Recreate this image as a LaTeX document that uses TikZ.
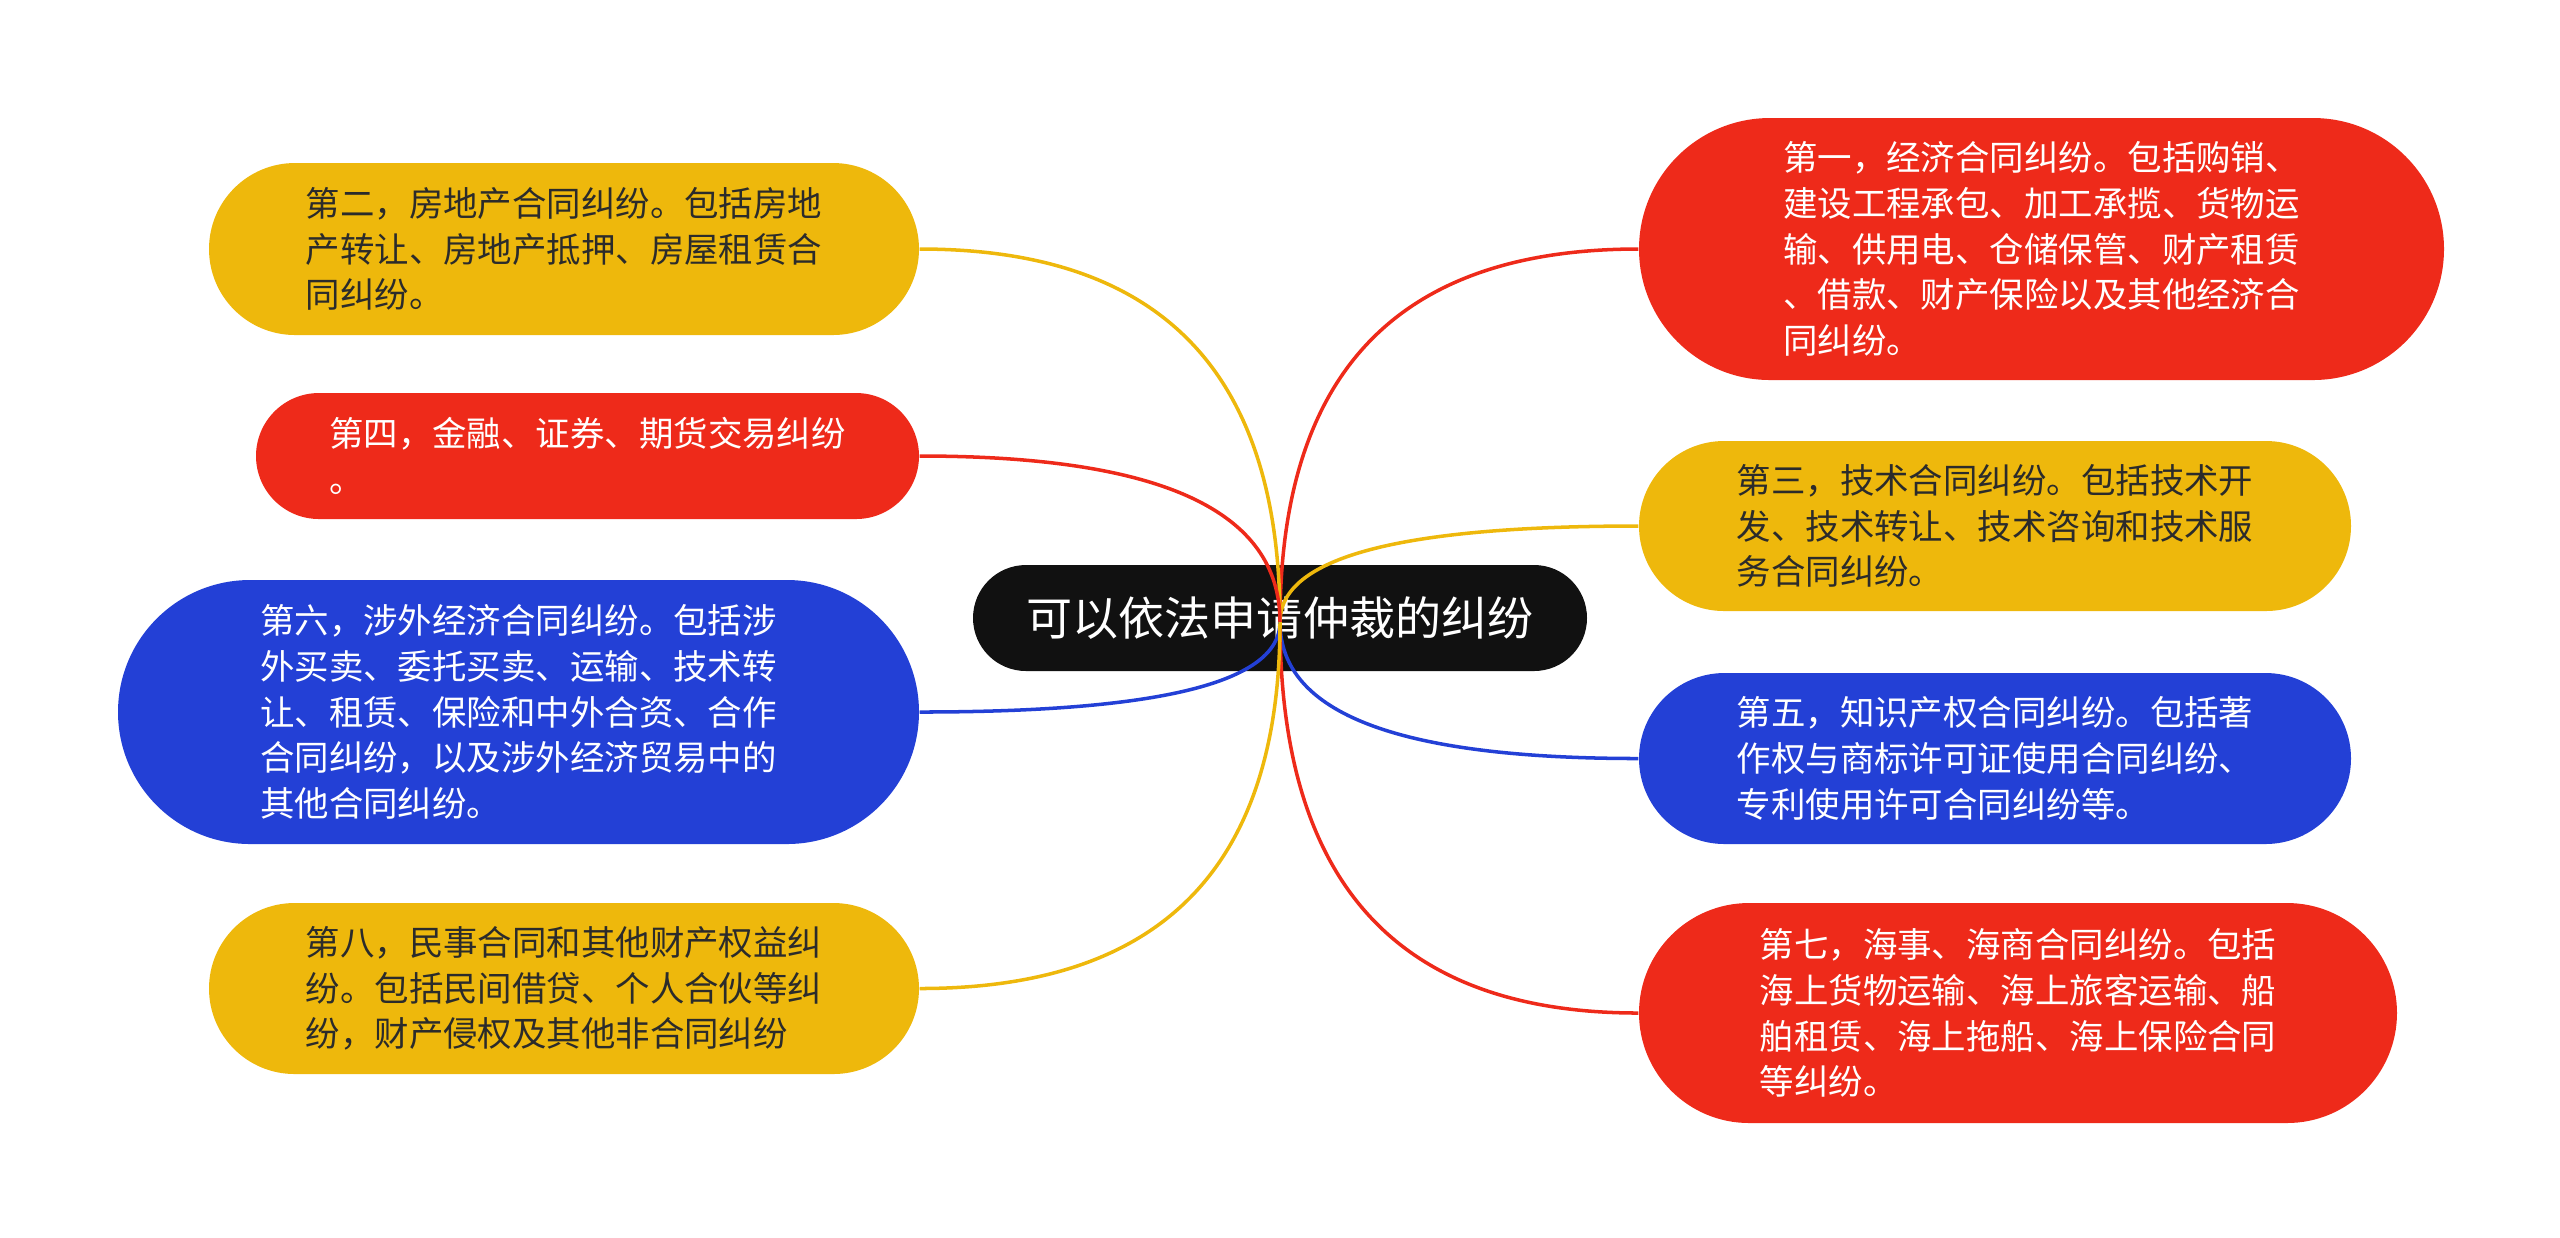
\documentclass[tikz,border=0pt]{standalone}
\usepackage{fontspec}
\setmainfont{Noto Sans CJK SC}
\usetikzlibrary{shapes.misc,calc}
\definecolor{mapred}{HTML}{EE2A1A}
\definecolor{mapyellow}{HTML}{EEB80C}
\definecolor{mapblue}{HTML}{2340D6}
\definecolor{mapblack}{HTML}{111111}
\definecolor{darktext}{HTML}{2B2B2B}

\begin{document}
\begin{tikzpicture}[
  topic/.style={rounded rectangle, fill=#1, align=left, inner sep=0pt,
    font=\fontsize{9.8pt}{13pt}\selectfont},
  link/.style={line width=1pt}]

\useasboundingbox (0,0) rectangle (25.6,-12.37);

\node[rounded rectangle, fill=mapblack, text=white, inner sep=0pt,
  minimum width=6.14cm, minimum height=1.06cm,
  font=\fontsize{13.1pt}{15pt}\selectfont] (root) at (12.80,-6.18) {可以依法申请仲裁的纠纷};

\coordinate (hub) at (12.80,-6.22);

\node[topic=mapyellow, text=darktext, minimum width=7.10cm, minimum height=1.72cm] (l1) at (5.64,-2.49)
  {第二，房地产合同纠纷。包括房地\\产转让、房地产抵押、房屋租赁合\\同纠纷。};
\node[topic=mapred, text=white, minimum width=6.63cm, minimum height=1.26cm] (l2) at (5.875,-4.56)
  {第四，金融、证券、期货交易纠纷\\。};
\node[topic=mapblue, text=white, minimum width=8.01cm, minimum height=2.64cm] (l3) at (5.185,-7.12)
  {第六，涉外经济合同纠纷。包括涉\\外买卖、委托买卖、运输、技术转\\让、租赁、保险和中外合资、合作\\合同纠纷，以及涉外经济贸易中的\\其他合同纠纷。};
\node[topic=mapyellow, text=darktext, minimum width=7.10cm, minimum height=1.71cm] (l4) at (5.64,-9.885)
  {第八，民事合同和其他财产权益纠\\纷。包括民间借贷、个人合伙等纠\\纷，财产侵权及其他非合同纠纷};

\node[topic=mapred, text=white, minimum width=8.05cm, minimum height=2.62cm] (r1) at (20.415,-2.49)
  {第一，经济合同纠纷。包括购销、\\建设工程承包、加工承揽、货物运\\输、供用电、仓储保管、财产租赁\\、借款、财产保险以及其他经济合\\同纠纷。};
\node[topic=mapyellow, text=darktext, minimum width=7.12cm, minimum height=1.70cm] (r2) at (19.95,-5.26)
  {第三，技术合同纠纷。包括技术开\\发、技术转让、技术咨询和技术服\\务合同纠纷。};
\node[topic=mapblue, text=white, minimum width=7.12cm, minimum height=1.71cm] (r3) at (19.95,-7.585)
  {第五，知识产权合同纠纷。包括著\\作权与商标许可证使用合同纠纷、\\专利使用许可合同纠纷等。};
\node[topic=mapred, text=white, minimum width=7.58cm, minimum height=2.20cm] (r4) at (20.18,-10.13)
  {第七，海事、海商合同纠纷。包括\\海上货物运输、海上旅客运输、船\\舶租赁、海上拖船、海上保险合同\\等纠纷。};

\foreach \n/\c/\s in {r1/mapred/west, r2/mapyellow/west, r3/mapblue/west, r4/mapred/west,
                      l1/mapyellow/east, l2/mapred/east, l3/mapblue/east, l4/mapyellow/east}
{
\draw[link, \c] (hub) .. controls ($(hub)!0.67!(hub |- \n.\s)$) and ($(\n.\s)!0.67!(hub |- \n.\s)$) .. (\n.\s);
}

\end{tikzpicture}
\end{document}
